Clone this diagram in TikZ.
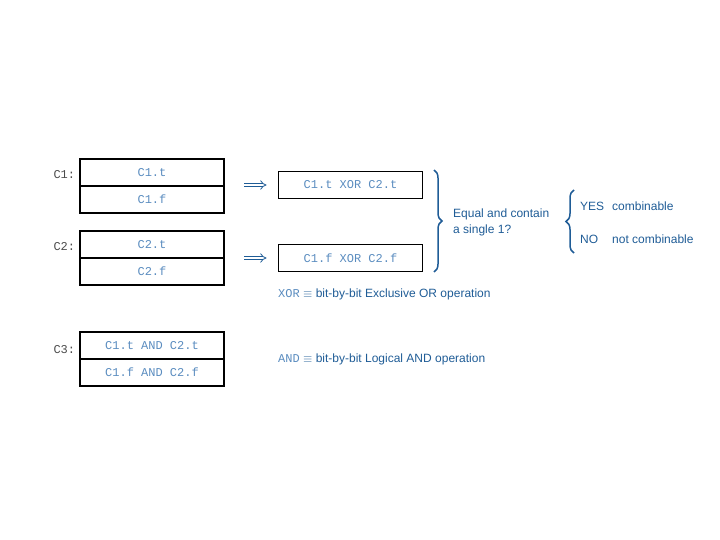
\documentclass[tikz,border=0pt]{standalone}
\usepackage{fontspec}
\setmainfont{Liberation Sans}
\setmonofont{Liberation Mono}
\usetikzlibrary{arrows.meta,positioning,decorations.pathreplacing}
\definecolor{bitblue}{HTML}{1F5C96}
\definecolor{codeblue}{HTML}{5A8CBF}

\begin{document}
\begin{tikzpicture}[x=1pt,y=-1pt,font=\fontsize{12}{14}\selectfont,
half/.style={draw=black,line width=1.6pt,minimum width=144pt,minimum height=27pt,inner sep=0pt,outer sep=0pt,
  font=\ttfamily\fontsize{12}{14}\selectfont,text=codeblue},
reg/.style={font=\ttfamily\fontsize{12}{14}\selectfont,text=black!70,anchor=west},
note/.style={text=bitblue,anchor=west,align=left,inner sep=0pt},
imply/.style={double,double distance=2.4pt,line width=0.8pt,draw=bitblue,-{Implies}},
curly/.style={draw=bitblue,line width=1.5pt,decorate,decoration={brace,amplitude=8pt}}]
\useasboundingbox (0,0) rectangle (720,540);
% registers C1, C2, C3
\node[half] (c1t) at (152,172.5) {C1.t};
\node[half,below=0pt of c1t] (c1f) {C1.f};
\node[half] (c2t) at (152,244.5) {C2.t};
\node[half,below=0pt of c2t] (c2f) {C2.f};
\node[half] (c3t) at (152,345.5) {C1.t AND C2.t};
\node[half,below=0pt of c3t] (c3f) {C1.f AND C2.f};
\node[reg] (l1) at (50,175) {C1:};
\node[reg] (l2) at (50,247) {C2:};
\node[reg] (l3) at (50,350) {C3:};
% xor results
\node[half] (xt) at (350.5,185) {C1.t XOR C2.t};
\node[half] (xf) at (350.5,258) {C1.f XOR C2.f};
\coordinate (a1) at (244,185);
\coordinate (a2) at (244,258);
\draw[imply,shorten >=12pt] (a1)--(xt.west);
\draw[imply,shorten >=12pt] (a2)--(xf.west);
% test and outcome
\coordinate (b1) at (434,170);
\coordinate (b2) at (434,272);
\draw[curly] (b1)--(b2);
\node[note] (q) at (453,222) {Equal and contain\\[2pt]a single 1?};
\coordinate (d1) at (574,253);
\coordinate (d2) at (574,190);
\draw[curly] (d1)--(d2);
\node[note] (yes) at (580,206) {YES};
\node[note] (no) at (580,239) {NO};
\node[note] (ok) at (612,206) {combinable};
\node[note] (nok) at (612,239) {not combinable};
% definitions
\node[note] (dx) at (278,294) {{\ttfamily\color{codeblue}XOR} $\equiv$ bit-by-bit Exclusive OR operation};
\node[note] (da) at (278,359) {{\ttfamily\color{codeblue}AND} $\equiv$ bit-by-bit Logical AND operation};
\end{tikzpicture}
\end{document}
